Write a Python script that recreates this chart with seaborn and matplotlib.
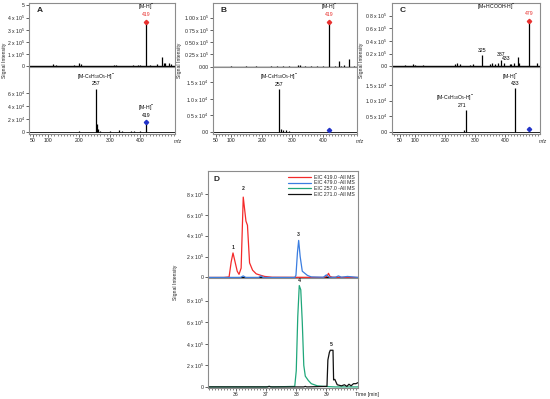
import numpy as np
import pandas as pd
import matplotlib
matplotlib.use('Agg')
import matplotlib.pyplot as plt
import seaborn as sns
from matplotlib.lines import Line2D
from matplotlib.ticker import FixedLocator, MultipleLocator

# ---- data ----
# A: MS spectra (top in 10^5 units, bottom in 10^4 units)
a_top_mz = [115, 126, 185, 199, 208, 314, 320, 377, 393, 400, 419, 430, 454, 472, 476, 481, 494, 501]
a_top_int = [0.2, 0.15, 0.1, 0.3, 0.2, 0.15, 0.1, 0.1, 0.15, 0.1, 3.7, 0.1, 0.2, 0.8, 0.3, 0.3, 0.3, 0.2]
a_bot_mz = [200, 257, 259, 262, 270, 300, 330, 340, 370, 380, 400, 419]
a_bot_int = [0.2, 6.6, 1.2, 0.5, 0.2, 0.2, 0.3, 0.15, 0.15, 0.2, 0.15, 1.5]

# B
b_top_mz = [100, 150, 180, 230, 250, 270, 290, 320, 325, 340, 360, 380, 400, 419, 440, 453, 460, 470, 485, 500]
b_top_int = [0.01, 0.015, 0.01, 0.015, 0.02, 0.015, 0.02, 0.03, 0.03, 0.015, 0.02, 0.015, 0.02, 0.93, 0.02, 0.12, 0.02, 0.03, 0.15, 0.02]
b_bot_mz = [257, 262, 270, 280, 290]
b_bot_int = [1.3, 0.08, 0.05, 0.05, 0.03]

# C
c_top_mz = [68, 96, 101, 129, 234, 240, 251, 283, 293, 325, 350, 358, 367, 376, 387, 398, 415, 420, 431, 442, 447, 479, 506]
c_top_int = [0.02, 0.03, 0.02, 0.02, 0.03, 0.05, 0.03, 0.02, 0.03, 0.175, 0.03, 0.05, 0.04, 0.06, 0.1, 0.05, 0.04, 0.03, 0.05, 0.15, 0.05, 0.71, 0.05]
c_bot_mz = [263, 271, 433]
c_bot_int = [0.05, 0.70, 1.40]

# D: extracted ion chromatograms (10^5 units)
t_419 = [35.07, 35.6, 35.77, 35.84, 35.9, 35.96, 36.04, 36.1, 36.17, 36.24, 36.33, 36.38, 36.45, 36.55, 36.67, 36.83, 36.95, 37.2, 38.9, 39.02, 39.07, 39.12, 39.2, 40.05]
i_419 = [0, 0, 0.05, 1.5, 2.35, 1.6, 0.6, 0.3, 0.9, 7.7, 5.4, 5.0, 1.4, 0.7, 0.35, 0.2, 0.1, 0.02, 0.0, 0.1, 0.4, 0.1, 0.02, 0.0]
t_479 = [35.07, 36.15, 36.24, 36.32, 36.75, 36.83, 36.9, 37.95, 37.99, 38.04, 38.08, 38.13, 38.2, 38.37, 38.5, 38.9, 39.0, 39.1, 39.3, 39.4, 39.5, 39.7, 40.05]
i_479 = [0, 0, 0.15, 0, 0, 0.15, 0, 0, 0.2, 2.4, 3.55, 2.0, 0.6, 0.2, 0.05, 0.02, 0.25, 0.02, 0.02, 0.15, 0.02, 0.1, 0.0]
t_257 = [35.07, 37.0, 37.1, 37.2, 37.95, 38.0, 38.05, 38.1, 38.15, 38.2, 38.25, 38.3, 38.4, 38.5, 38.7, 38.9, 39.3, 40.05]
i_257 = [0, 0, 0.05, 0, 0.05, 1.5, 6.5, 9.4, 9.0, 6.0, 2.0, 1.0, 0.6, 0.3, 0.1, 0.05, 0, 0]
t_271 = [35.07, 37.05, 37.1, 37.15, 38.25, 38.3, 38.35, 39.02, 39.05, 39.1, 39.13, 39.22, 39.24, 39.28, 39.36, 39.5, 39.6, 39.68, 39.75, 39.82, 39.9, 39.98, 40.05]
i_271 = [0, 0, 0.05, 0, 0, 0.05, 0, 0.05, 2.5, 3.2, 3.4, 3.4, 0.65, 0.7, 0.2, 0.1, 0.2, 0.05, 0.25, 0.1, 0.3, 0.3, 0.4]
eic_labels = ['EIC 419.0 -All MS', 'EIC 479.0 -All MS', 'EIC 257.0 -All MS', 'EIC 271.0 -All MS']
eic_colors = ['#f42a2a', '#3a7de0', '#1fa77a', '#111111']

RED = '#e8312f'
BLUE = '#2233c8'
FRAME = '#8c8c8c'
FS = 3.7

sns.set_style('ticks')
plt.rcParams['font.family'] = ['Liberation Sans', 'DejaVu Sans']
plt.rcParams['mathtext.fontset'] = 'custom'
plt.rcParams['mathtext.rm'] = 'Liberation Sans'
plt.rcParams['mathtext.it'] = 'Liberation Sans:italic'

W, H = 550, 399
fig = plt.figure(figsize=(W / 100, H / 100), dpi=100)


def px_axes(x0, y0, x1, y1):
    return fig.add_axes([x0 / W, 1 - y1 / H, (x1 - x0) / W, (y1 - y0) / H])


def style(ax):
    for s in ax.spines.values():
        s.set_color(FRAME)
        s.set_linewidth(0.8)
    ax.tick_params(labelsize=FS, length=2, width=0.5, pad=1.2, colors='#222222')
    ax.tick_params(which='minor', length=1.2, width=0.4)


def yticks(ax, vals, labels):
    ax.yaxis.set_major_locator(FixedLocator(vals))
    ax.set_yticklabels(labels)


def sci(vals, exp, fmt='{:g}'):
    return [fmt.format(v) if v == 0 else fmt.format(v) + ' x 10$^{' + str(exp) + '}$' for v in vals]


def spectrum_pair(x0, x1, xlim, top, bot, top_lim, bot_lim, letter, ylab_x):
    ax_t = px_axes(x0, 3, x1, 67)
    ax_b = px_axes(x0, 67, x1, 134)
    for ax, (mz, inten), lim in ((ax_t, top, top_lim), (ax_b, bot, bot_lim)):
        style(ax)
        ax.vlines(mz, 0, inten, color='k', lw=0.9)
        ax.axhline(0, color='k', lw=0.6 if ax is ax_b else 1.0, zorder=1)
        ax.set_xlim(*xlim)
        ax.set_ylim(*lim)
    ax_t.spines['bottom'].set_visible(False)
    ax_t.tick_params(axis='x', which='both', bottom=False, labelbottom=False)
    ax_b.xaxis.set_major_locator(FixedLocator([50, 100, 200, 300, 400]))
    ax_b.xaxis.set_minor_locator(MultipleLocator(10))
    ax_b.text(1.02, -0.07, 'm/z', transform=ax_b.transAxes, fontsize=FS,
              style='italic', ha='center', va='top')
    ax_t.text(0.05, 0.93, letter, transform=ax_t.transAxes, fontsize=6,
              fontweight='bold', va='top')
    fig.text(ylab_x / W, 1 - 60 / H, 'Signal Intensity', rotation=90,
             fontsize=FS, ha='center', va='center')
    return ax_t, ax_b


def lab(ax, x, y, s, color='k'):
    ax.text(x, y, s, fontsize=FS, ha='center', va='center', color=color)


# ---- A ----
at, ab = spectrum_pair(29, 175, (37, 513), (a_top_mz, a_top_int), (a_bot_mz, a_bot_int),
                       (-0.05, 5.2), (-0.3, 10), 'A', 5)
yticks(at, [0, 1, 2, 3, 4, 5], sci([0, 1, 2, 3, 4], 5) + ['5'])
yticks(ab, [0, 2, 4, 6], sci([0, 2, 4, 6], 4))
at.plot(419, 3.66, 'D', color=RED, ms=2.2)
lab(at, 419, 4.9, '[M-H]$^{-}$')
lab(at, 419, 4.25, '419', RED)
ab.plot(419, 1.5, 'D', color=BLUE, ms=2.2)
lab(ab, 419, 3.7, '[M-H]$^{-}$')
lab(ab, 419, 2.6, '419')
lab(ab, 257, 8.6, '[M-C$_6$H$_{10}$O$_5$-H]$^{-}$')
lab(ab, 257, 7.4, '257')

# ---- B ----
bt, bb = spectrum_pair(213, 357, (41, 511), (b_top_mz, b_top_int), (b_bot_mz, b_bot_int),
                       (-0.01, 1.3), (-0.07, 1.97), 'B', 179)
yticks(bt, [0, 0.25, 0.5, 0.75, 1.0], ['0.00'] + [f'{v:.2f} x 10$^{{5}}$' for v in [0.25, 0.5, 0.75, 1.0]])
yticks(bb, [0, 0.5, 1.0, 1.5], ['0.0'] + [f'{v:.1f} x 10$^{{4}}$' for v in [0.5, 1.0, 1.5]])
bt.plot(419, 0.92, 'D', color=RED, ms=2.2)
lab(bt, 419, 1.23, '[M-H]$^{-}$')
lab(bt, 419, 1.06, '419', RED)
bb.plot(419, 0.05, 'D', color=BLUE, ms=2.2)
lab(bb, 257, 1.69, '[M-C$_6$H$_{10}$O$_5$-H]$^{-}$')
lab(bb, 257, 1.45, '257')

# ---- C ----
ct, cb = spectrum_pair(392, 540, (25, 516), (c_top_mz, c_top_int), (c_bot_mz, c_bot_int),
                       (-0.01, 1.0), (-0.07, 2.08), 'C', 362)
yticks(ct, [0, 0.2, 0.4, 0.6, 0.8], ['0.0'] + [f'{v:.1f} x 10$^{{5}}$' for v in [0.2, 0.4, 0.6, 0.8]])
yticks(cb, [0, 0.5, 1.0, 1.5], ['0.0'] + [f'{v:.1f} x 10$^{{4}}$' for v in [0.5, 1.0, 1.5]])
ct.plot(479, 0.71, 'D', color=RED, ms=2.2)
lab(ct, 370, 0.95, '[M+HCOOH-H]$^{-}$')
lab(ct, 479, 0.83, '479', RED)
lab(ct, 325, 0.25, '325')
lab(ct, 387, 0.19, '387')
lab(ct, 405, 0.13, '433')
cb.plot(479, 0.08, 'D', color=BLUE, ms=2.2)
lab(cb, 418, 1.79, '[M-H]$^{-}$')
lab(cb, 433, 1.55, '433')
lab(cb, 234, 1.11, '[M-C$_6$H$_{10}$O$_5$-H]$^{-}$')
lab(cb, 258, 0.86, '271')

# ---- D ----
dt = px_axes(208, 171, 358, 278)
db = px_axes(208, 278, 358, 388)
traces = [(dt, t_419, i_419), (dt, t_479, i_479), (db, t_257, i_257), (db, t_271, i_271)]
for (ax, t, v), c in zip(traces, eic_colors):
    sns.lineplot(x=t, y=v, ax=ax, color=c, lw=0.9, legend=False)
for ax, lim in ((dt, (-0.05, 10.2)), (db, (-0.1, 10.1))):
    style(ax)
    ax.set_xlim(35.07, 40.05)
    ax.set_ylim(*lim)
    yticks(ax, [0, 2, 4, 6, 8], sci([0, 2, 4, 6, 8], 5))
dt.axhline(0, color='k', lw=0.8, zorder=1)
dt.spines['bottom'].set_visible(False)
dt.tick_params(axis='x', which='both', bottom=False, labelbottom=False)
db.xaxis.set_major_locator(FixedLocator([36, 37, 38, 39]))
db.xaxis.set_minor_locator(MultipleLocator(0.1))
db.text(0.98, -0.04, 'Time [min]', transform=db.transAxes, fontsize=FS, ha='left', va='top')
dt.text(0.04, 0.95, 'D', transform=dt.transAxes, fontsize=6, fontweight='bold', va='top')
for ax, x, y, s in ((dt, 35.9, 2.9, '1'), (dt, 36.24, 8.5, '2'), (dt, 38.08, 4.1, '3'),
                    (db, 38.12, 9.9, '4'), (db, 39.17, 3.95, '5')):
    ax.text(x, y, s, fontsize=FS, fontweight='bold', ha='center', va='center')
handles = [Line2D([], [], color=c, lw=0.9) for c in eic_colors]
dt.legend(handles, eic_labels, loc='upper right', fontsize=FS, frameon=False,
          handlelength=4.5, labelspacing=0.15, borderaxespad=0.3, handletextpad=0.5)
fig.text(176 / W, 1 - 282 / H, 'Signal Intensity', rotation=90, fontsize=FS,
         ha='center', va='center')

fig.savefig('out.png', dpi=100)
